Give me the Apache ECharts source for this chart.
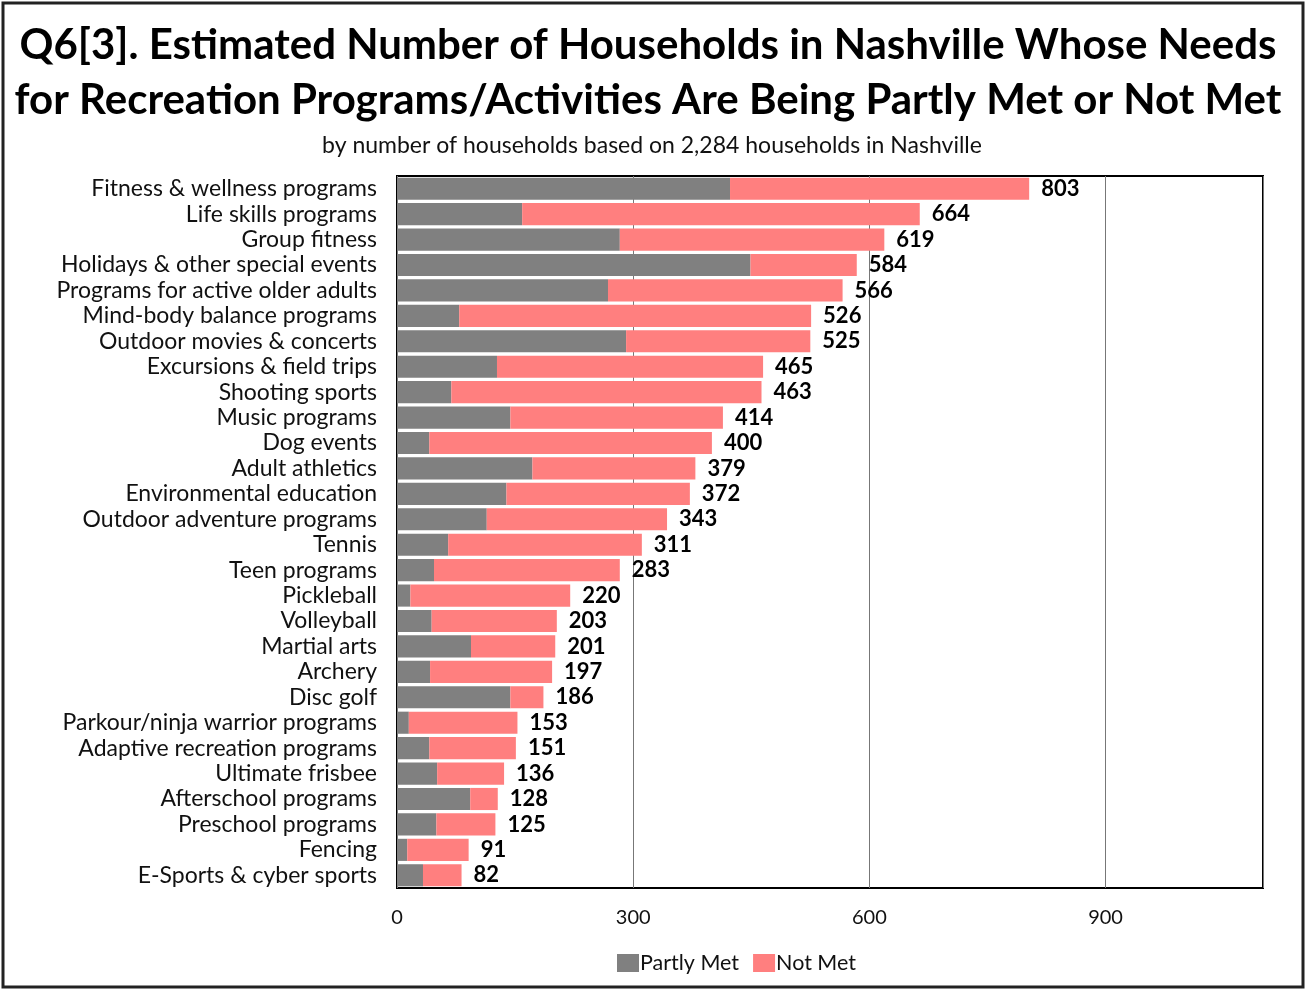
<!DOCTYPE html>
<html lang="en">
<head>
<meta charset="UTF-8">
<title>Q6[3] Needs Partly Met or Not Met</title>
<script src="https://cdn.jsdelivr.net/npm/echarts@6/dist/echarts.min.js"></script>
<style>
  html, body { margin: 0; padding: 0; background: #fff; }
  #main { width: 1307px; height: 990px; }
</style>
</head>
<body>
<div id="main"></div>
<script>
// categories, top to bottom as in the source chart
var programs = [
  'Fitness & wellness programs', 'Life skills programs', 'Group fitness',
  'Holidays & other special events', 'Programs for active older adults',
  'Mind-body balance programs', 'Outdoor movies & concerts',
  'Excursions & field trips', 'Shooting sports', 'Music programs',
  'Dog events', 'Adult athletics', 'Environmental education',
  'Outdoor adventure programs', 'Tennis', 'Teen programs', 'Pickleball',
  'Volleyball', 'Martial arts', 'Archery', 'Disc golf',
  'Parkour/ninja warrior programs', 'Adaptive recreation programs',
  'Ultimate frisbee', 'Afterschool programs', 'Preschool programs',
  'Fencing', 'E-Sports & cyber sports'
];

// totals printed at the end of each bar
var totals = [803, 664, 619, 584, 566, 526, 525, 465, 463, 414, 400, 379, 372,
  343, 311, 283, 220, 203, 201, 197, 186, 153, 151, 136, 128, 125, 91, 82];

// grey part
var partlyMet = [423, 159, 283, 449, 268, 79, 291, 127, 69, 144, 41, 172, 139,
  114, 65, 47, 17, 44, 94, 42, 144, 15, 41, 51, 93, 50, 13, 33];

var xTicks = [0, 300, 600, 900];

var notMet = totals.map(function (t, i) { return t - partlyMet[i]; });

var FONT = 'Lato';

var myChart = echarts.init(document.getElementById('main'));

var option = {
  animation: false,
  backgroundColor: '#fff',
  title: [{
    text: 'Q6[3]. Estimated Number of Households in Nashville Whose Needs\nfor Recreation Programs/Activities Are Being Partly Met or Not Met',
    left: 643, textAlign: 'center', top: 13,
    textStyle: { fontFamily: FONT, fontWeight: 'bold', fontSize: 42, lineHeight: 55, color: '#000' }
  }, {
    text: 'by number of households based on 2,284 households in Nashville',
    left: 647, textAlign: 'center', top: 129,
    textStyle: { fontFamily: FONT, fontWeight: 'normal', fontSize: 23, color: '#111' }
  }],
  legend: {
    left: 612, top: 947,
    itemWidth: 22, itemHeight: 18, itemGap: 14,
    icon: 'rect',
    textStyle: { fontFamily: FONT, fontSize: 21.5, color: '#111', padding: [0, 0, 0, -4] },
    data: ['Partly Met', 'Not Met']
  },
  grid: {
    left: 397, right: 44, top: 176, bottom: 102,
    show: true, borderColor: '#000', borderWidth: 2, backgroundColor: 'transparent'
  },
  xAxis: {
    type: 'value', min: 0, max: 1100, interval: 300,
    axisLine: { show: false }, axisTick: { show: false },
    splitLine: { show: true, lineStyle: { color: '#777', width: 1 } },
    axisLabel: {
      showMaxLabel: false, margin: 20,
      fontFamily: FONT, fontSize: 20, color: '#111',
      formatter: function (v) { return xTicks.indexOf(v) >= 0 ? String(v) : ''; }
    }
  },
  yAxis: {
    type: 'category', inverse: true, data: programs,
    axisLine: { show: false }, axisTick: { show: false },
    axisLabel: { interval: 0, margin: 20, fontFamily: FONT, fontSize: 23, color: '#111' }
  },
  series: [{
    name: 'Partly Met', type: 'bar', stack: 'all',
    barCategoryGap: '13%',
    itemStyle: { color: '#808080' },
    data: partlyMet
  }, {
    name: 'Not Met', type: 'bar', stack: 'all',
    barCategoryGap: '13%',
    itemStyle: { color: '#ff7f7f' },
    label: {
      show: true, position: 'right', distance: 12,
      fontFamily: FONT, fontWeight: 'bold', fontSize: 22, color: '#000',
      formatter: function (p) { return totals[p.dataIndex]; }
    },
    data: notMet
  }],
  graphic: [{
    type: 'rect', silent: true,
    shape: { x: 3, y: 3, width: 1300, height: 984 },
    style: { fill: 'none', stroke: '#222', lineWidth: 3 }
  }]
};

myChart.setOption(option);
</script>
</body>
</html>
